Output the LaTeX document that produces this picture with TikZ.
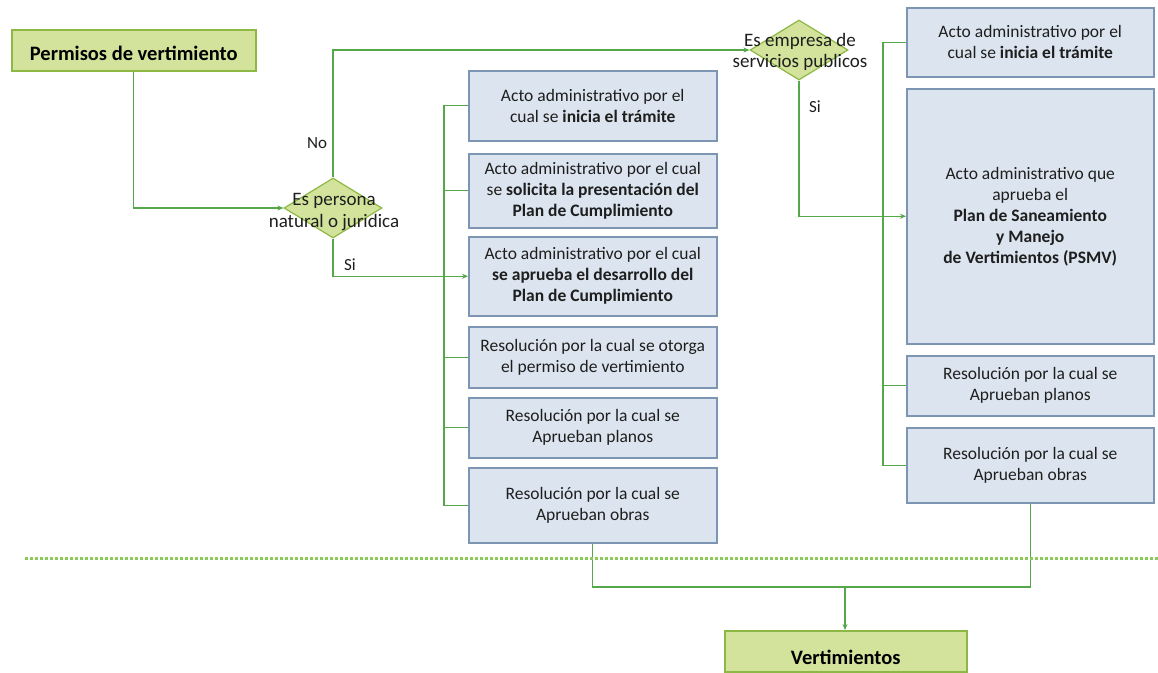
\documentclass[tikz,border=0pt]{standalone}
\usepackage{fontspec}
\setmainfont{Carlito}
\usetikzlibrary{shapes.geometric,arrows.meta}
\definecolor{gfill}{HTML}{D3E39C}
\definecolor{gdraw}{HTML}{8DB843}
\definecolor{bfill}{HTML}{DCE5EF}
\definecolor{bdraw}{HTML}{7B95B3}
\definecolor{conn}{HTML}{55A84A}
\definecolor{txt}{HTML}{1E1E1E}
\definecolor{sepcol}{HTML}{8CC85A}
\begin{document}
\begin{tikzpicture}[x=1pt,y=-1pt,
  box/.style={draw=bdraw, fill=bfill, line width=1.5pt, align=center, text=txt, inner sep=0pt, anchor=north west, font=\fontsize{17.5}{21}\selectfont},
  gbox/.style={draw=gdraw, fill=gfill, line width=1.5pt, align=center, text=black, inner sep=0pt, anchor=north west, font=\fontsize{20.5}{24}\selectfont\bfseries},
  diam/.style={diamond, draw=gdraw, fill=gfill, line width=1.2pt, minimum width=98pt, minimum height=60pt, inner sep=0pt},
  dtext/.style={align=center, text=txt, font=\fontsize{19}{21.5}\selectfont, inner sep=0pt},
  lbl/.style={text=txt, font=\fontsize{17}{19}\selectfont, inner sep=0pt},
  line/.style={draw=conn, line width=1.4pt},
  arr/.style={line, -{Stealth[length=6pt,width=5pt]}},
  sepline/.style={draw=sepcol, line width=3pt, dash pattern=on 3pt off 2pt},
]
\useasboundingbox[fill=white] (0,0) rectangle (1158,672);

% start / end
\node[gbox, minimum width=244pt, minimum height=41pt] (p) at (11,29) {\raisebox{-10pt}[0pt][0pt]{Permisos de vertimiento}};
\node[gbox, minimum width=242pt, minimum height=41pt] (v) at (724,630) {\raisebox{-13pt}[0pt][0pt]{Vertimientos}};

% decisions
\node[diam] (d1) at (333,208) {};
\node[dtext] (d1t) at (334,212) {Es persona\\natural o juridica};
\node[diam] (d2) at (799,50) {};
\node[dtext] (d2t) at (800,52) {Es empresa de\\servicios publicos};

% left column
\node[box, minimum width=248pt, minimum height=70pt] (l1) at (468,70) {Acto administrativo por el\\cual se \textbf{inicia el trámite}};
\node[box, minimum width=248pt, minimum height=74pt] (l2) at (468,153) {Acto administrativo por el cual\\se \textbf{solicita la presentación del}\\\textbf{Plan de Cumplimiento}};
\node[box, minimum width=248pt, minimum height=79pt] (l3) at (468,236) {Acto administrativo por el cual\\\textbf{se aprueba el desarrollo del}\\\textbf{Plan de Cumplimiento}};
\node[box, minimum width=248pt, minimum height=61pt] (l4) at (468,326) {Resolución por la cual se otorga\\el permiso de vertimiento};
\node[box, minimum width=248pt, minimum height=60pt] (l5) at (468,397) {Resolución por la cual se\\Aprueban planos};
\node[box, minimum width=248pt, minimum height=75pt] (l6) at (468,467) {Resolución por la cual se\\Aprueban obras};

% right column
\node[box, minimum width=247pt, minimum height=69pt] (r1) at (906,7) {Acto administrativo por el\\cual se \textbf{inicia el trámite}};
\node[box, minimum width=247pt, minimum height=255pt] (r2) at (906,88) {Acto administrativo que\\aprueba el\\\textbf{Plan de Saneamiento}\\\textbf{y Manejo}\\\textbf{de Vertimientos (PSMV)}};
\node[box, minimum width=247pt, minimum height=60pt] (r3) at (906,355) {Resolución por la cual se\\Aprueban planos};
\node[box, minimum width=247pt, minimum height=75pt] (r4) at (906,427) {Resolución por la cual se\\Aprueban obras};

% bus coordinates
\coordinate (lbus) at (444,0);
\coordinate (rbus) at (883,0);
\coordinate (j) at (845,587);

% connectors
\draw[arr] (p.south) |- (d1.west);
\draw[arr] (d1.north) |- (d2.west);
\draw[arr] (d1.south) |- (l3.west);
\draw[arr] (d2.south) |- (r2.west);

\draw[line] (l1.west) -| (lbus |- l6.west) -- (l6.west);
\draw[line] (lbus |- l2.west) -- (l2.west);
\draw[line] (lbus |- l4.west) -- (l4.west);
\draw[line] (lbus |- l5.west) -- (l5.west);

\draw[line] (r1.west) -| (rbus |- r4.west) -- (r4.west);
\draw[line] (rbus |- r3.west) -- (r3.west);

\draw[line] (l6.south) |- (j) -| (r4.south);
\draw[arr] (j) -- (j |- v.north);

% separator
\coordinate (sepL) at (25,558);
\coordinate (sepR) at (1158,558);
\draw[sepline] (sepL) -- (sepR);

% labels
\node[lbl] (no) at (317,143) {No};
\node[lbl] (si1) at (350,265) {Si};
\node[lbl] (si2) at (815,107) {Si};
\end{tikzpicture}
\end{document}
